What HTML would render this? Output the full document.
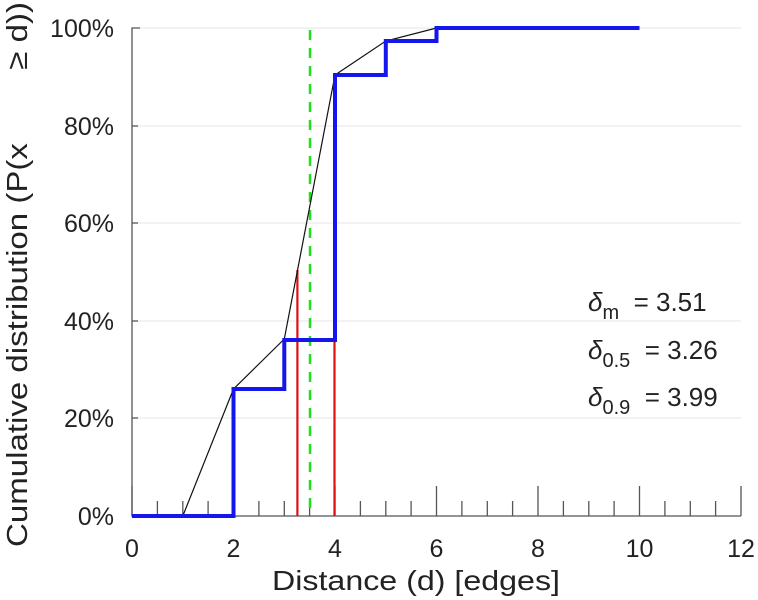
<!DOCTYPE html>
<html><head><style>body{margin:0;background:#fff}svg{display:block}text{font-family:"Liberation Sans","DejaVu Sans",sans-serif;fill:#222}</style></head><body>
<svg width="758" height="600" xmlns="http://www.w3.org/2000/svg">
<g stroke="#e6e6e6" stroke-width="1">
<line x1="132" y1="28" x2="741" y2="28"/><line x1="132" y1="126" x2="741" y2="126"/><line x1="132" y1="223" x2="741" y2="223"/><line x1="132" y1="321" x2="741" y2="321"/><line x1="132" y1="418" x2="741" y2="418"/>
</g>
<g stroke="#555" stroke-width="1.3" fill="none">
<path d="M140 28 H132 V516 H741"/>
<line x1="132" y1="126" x2="138" y2="126"/><line x1="132" y1="223" x2="138" y2="223"/><line x1="132" y1="321" x2="138" y2="321"/><line x1="132" y1="418" x2="138" y2="418"/>
<line x1="132" y1="486" x2="132" y2="516"/><line x1="233.5" y1="486" x2="233.5" y2="516"/><line x1="335" y1="486" x2="335" y2="516"/><line x1="436.5" y1="486" x2="436.5" y2="516"/><line x1="538" y1="486" x2="538" y2="516"/><line x1="639.5" y1="486" x2="639.5" y2="516"/><line x1="741" y1="486" x2="741" y2="516"/>
<line x1="157.4" y1="501" x2="157.4" y2="516"/><line x1="182.8" y1="501" x2="182.8" y2="516"/><line x1="208.1" y1="501" x2="208.1" y2="516"/>
<line x1="258.9" y1="501" x2="258.9" y2="516"/><line x1="284.3" y1="501" x2="284.3" y2="516"/><line x1="309.6" y1="501" x2="309.6" y2="516"/>
<line x1="360.4" y1="501" x2="360.4" y2="516"/><line x1="385.8" y1="501" x2="385.8" y2="516"/><line x1="411.1" y1="501" x2="411.1" y2="516"/>
<line x1="461.9" y1="501" x2="461.9" y2="516"/><line x1="487.3" y1="501" x2="487.3" y2="516"/><line x1="512.6" y1="501" x2="512.6" y2="516"/>
<line x1="563.4" y1="501" x2="563.4" y2="516"/><line x1="588.8" y1="501" x2="588.8" y2="516"/><line x1="614.1" y1="501" x2="614.1" y2="516"/>
<line x1="664.9" y1="501" x2="664.9" y2="516"/><line x1="690.3" y1="501" x2="690.3" y2="516"/><line x1="715.6" y1="501" x2="715.6" y2="516"/>
</g>
<line x1="310" y1="30" x2="310" y2="516" stroke="#22dd22" stroke-width="2.5" stroke-dasharray="10,8"/>
<line x1="297.4" y1="270" x2="297.4" y2="516" stroke="#dd1111" stroke-width="2.2"/>
<line x1="334.5" y1="75" x2="334.5" y2="516" stroke="#dd1111" stroke-width="2.2"/>
<polyline points="182.8,516 233.5,389 284.3,339 335,75 385.8,41 436.5,28 487.3,28" fill="none" stroke="#111" stroke-width="1.2"/>
<polyline points="132,516 233.5,516 233.5,389 284.3,389 284.3,340 335,340 335,75 385.8,75 385.8,41 436.5,41 436.5,28 639.5,28" fill="none" stroke="#1515ee" stroke-width="4"/>
<g font-size="25" text-anchor="end">
<text x="114" y="37">100%</text><text x="114" y="135">80%</text><text x="114" y="232">60%</text><text x="114" y="330">40%</text><text x="114" y="427">20%</text><text x="114" y="525">0%</text>
</g>
<g font-size="25" text-anchor="middle">
<text x="132" y="557">0</text><text x="233.5" y="557">2</text><text x="335" y="557">4</text><text x="436.5" y="557">6</text><text x="538" y="557">8</text><text x="639.5" y="557">10</text><text x="741" y="557">12</text>
</g>
<text x="272" y="590" font-size="28" textLength="288" lengthAdjust="spacingAndGlyphs">Distance (d) [edges]</text>
<text transform="translate(27,547) rotate(-90)" font-size="29" xml:space="preserve" textLength="545" lengthAdjust="spacingAndGlyphs">Cumulative distribution (P(x&#160;&#160;&#160;&#160;&#160;&#160;&#160;&#160;≥ d))</text>
<g font-size="26">
<text x="588" y="311" xml:space="preserve"><tspan font-style="italic">δ</tspan><tspan font-size="20" dy="8">m</tspan><tspan dy="-8">&#160;&#160;= 3.51</tspan></text>
<text x="588" y="359" xml:space="preserve"><tspan font-style="italic">δ</tspan><tspan font-size="20" dy="8">0.5</tspan><tspan dy="-8">&#160;&#160;= 3.26</tspan></text>
<text x="588" y="406" xml:space="preserve"><tspan font-style="italic">δ</tspan><tspan font-size="20" dy="8">0.9</tspan><tspan dy="-8">&#160;&#160;= 3.99</tspan></text>
</g>
</svg>
</body></html>
